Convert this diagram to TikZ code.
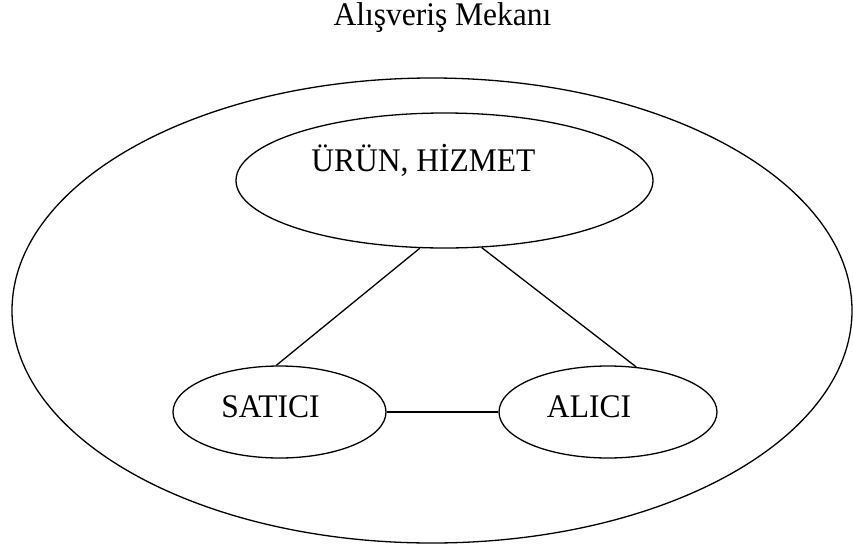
\documentclass[tikz,border=0pt]{standalone}
\usepackage{fontspec}
\setmainfont[FakeStretch=0.955]{Liberation Serif}
\usetikzlibrary{shapes.geometric}
\tikzset{
    bulle/.style={draw, ellipse, line width=1.3pt, inner sep=0pt},
    lien/.style={line width=1.3pt},
    texte/.style={font=\fontsize{33}{39}\selectfont, inner sep=0pt},
    every label/.style={texte},
  }
\begin{document}
\begin{tikzpicture}[x=1pt,y=-1pt]
                  %cadre de la page
                  \useasboundingbox (0,0) rectangle (853,549);
                  %titre
                  \node[texte, anchor=base] (titre) at (442.5,25) {Alışveriş Mekanı};
                  %ellipses
                  \node[bulle, minimum width=840pt, minimum height=465pt] (mekan) at (432,310.5) {};
                  \node[bulle, minimum width=417pt, minimum height=135pt,
                        label={[xshift=-21pt,yshift=20pt]center:ÜRÜN, HİZMET}] (urun) at (444.5,180.5) {};
                  \node[bulle, minimum width=213pt, minimum height=92pt,
                        label={[xshift=-9pt,yshift=5pt]center:SATICI}] (satici) at (279.5,412) {};
                  \node[bulle, minimum width=218pt, minimum height=92pt,
                        label={[xshift=-19pt,yshift=5pt]center:ALICI}] (alici) at (608,412) {};
                  %liens
                  \draw [lien] (urun.250) -- (satici.94);
                  \draw [lien] (urun.299) -- (alici.58);
                  \draw [lien] (satici.east) -- (alici.west);
\end{tikzpicture}
\end{document}
